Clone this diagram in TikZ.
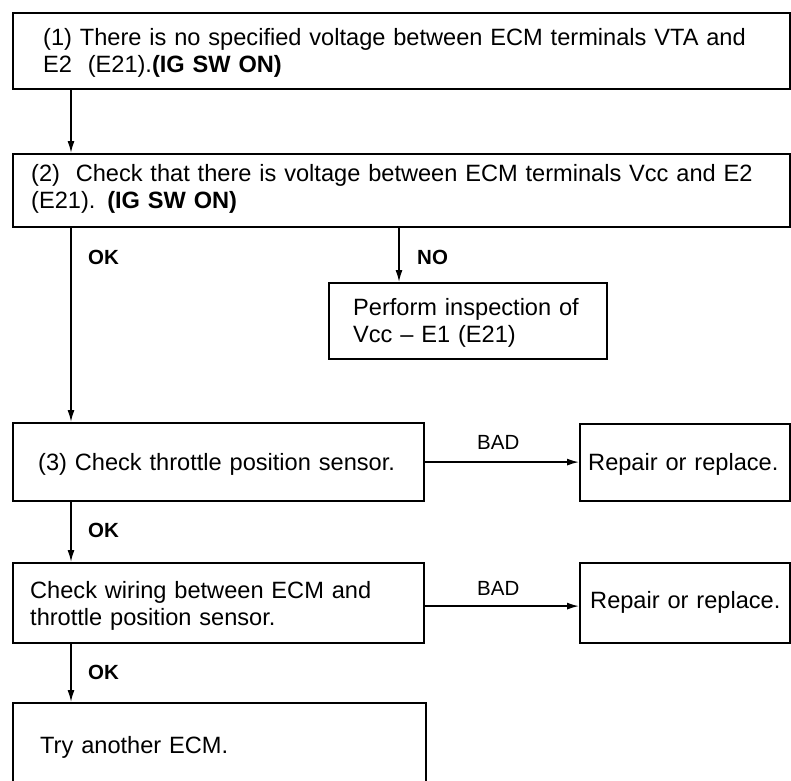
\documentclass[tikz,border=0pt]{standalone}
\usepackage{fontspec}
\setmainfont{Liberation Sans}
\usetikzlibrary{arrows.meta}
\tikzset{
  box/.style={draw, line width=2.2pt, anchor=north west, inner sep=0pt},
  txt/.style={anchor=base west, inner sep=0pt, align=left, text width=#1,
    font=\fontsize{23.6}{27.5}\selectfont},
  txt/.default=750pt,
  lbl/.style={inner sep=0pt, anchor=west, font=\fontsize{20.5}{24}\selectfont},
  blbl/.style={lbl, font=\fontsize{20.5}{24}\selectfont\bfseries},
  arr/.style={line width=1.5pt, -{Latex[length=12pt,width=7pt]}},
}
\begin{document}
\begin{tikzpicture}[x=1pt,y=-1pt]
\clip (0,0) rectangle (791,780);
% boxes
\node[box, minimum width=777pt, minimum height=76pt] (b1) at (12,12) {};
\node[box, minimum width=777pt, minimum height=73pt] (b2) at (12,153) {};
\node[box, minimum width=278pt, minimum height=76pt] (perf) at (328,282) {};
\node[box, minimum width=411pt, minimum height=78pt] (b3) at (12,422) {};
\node[box, minimum width=210pt, minimum height=77pt] (r1) at (579,423) {};
\node[box, minimum width=411pt, minimum height=80pt] (b4) at (12,562) {};
\node[box, minimum width=210pt, minimum height=80pt] (r2) at (579,562) {};
\node[box, minimum width=413pt, minimum height=110pt] (b5) at (12,702) {};
% texts
\node[txt] (t1) at (43,45) {(1) There is no specified voltage between ECM terminals VTA and\\E2\ \ (E21).\textbf{(IG SW ON)}};
\node[txt] (t2) at (31,181) {(2)\ \ Check that there is voltage between ECM terminals Vcc and E2\\(E21). \textbf{(IG SW ON)}};
\node[txt=260pt] (tp) at (353,315) {Perform inspection of\\Vcc \textendash\ E1 (E21)};
\node[txt=380pt] (t3) at (38,470) {(3) Check throttle position sensor.};
\node[txt=200pt] (tr1) at (588,470) {Repair or replace.};
\node[txt=380pt] (t4) at (30,598) {Check wiring between ECM and\\throttle position sensor.};
\node[txt=200pt] (tr2) at (590,608) {Repair or replace.};
\node[txt=380pt] (t5) at (40,753) {Try another ECM.};
% labels
\node[blbl] (ok1) at (88,257) {OK};
\node[blbl] (no1) at (417,257) {NO};
\node[lbl] (bad1) at (477,442) {BAD};
\node[blbl] (ok2) at (88,530) {OK};
\node[lbl] (bad2) at (477,588) {BAD};
\node[blbl] (ok3) at (88,672) {OK};
% connectors
\coordinate (pn) at ([xshift=71pt]perf.north west);
\draw[arr] ([xshift=59pt]b1.south west) -- ([xshift=59pt]b2.north west);
\draw[arr] ([xshift=59pt]b2.south west) -- ([xshift=59pt]b3.north west);
\draw[arr] (b2.south -| pn) -- (pn);
\draw[arr] (b3.east) -- (r1.west |- b3.east);
\draw[arr] ([xshift=59pt]b3.south west) -- ([xshift=59pt]b4.north west);
\draw[arr] ([yshift=-3pt]b4.east) -- ([yshift=-3pt]r2.west |- b4.east);
\draw[arr] ([xshift=59pt]b4.south west) -- ([xshift=59pt]b5.north west);
\end{tikzpicture}
\end{document}
